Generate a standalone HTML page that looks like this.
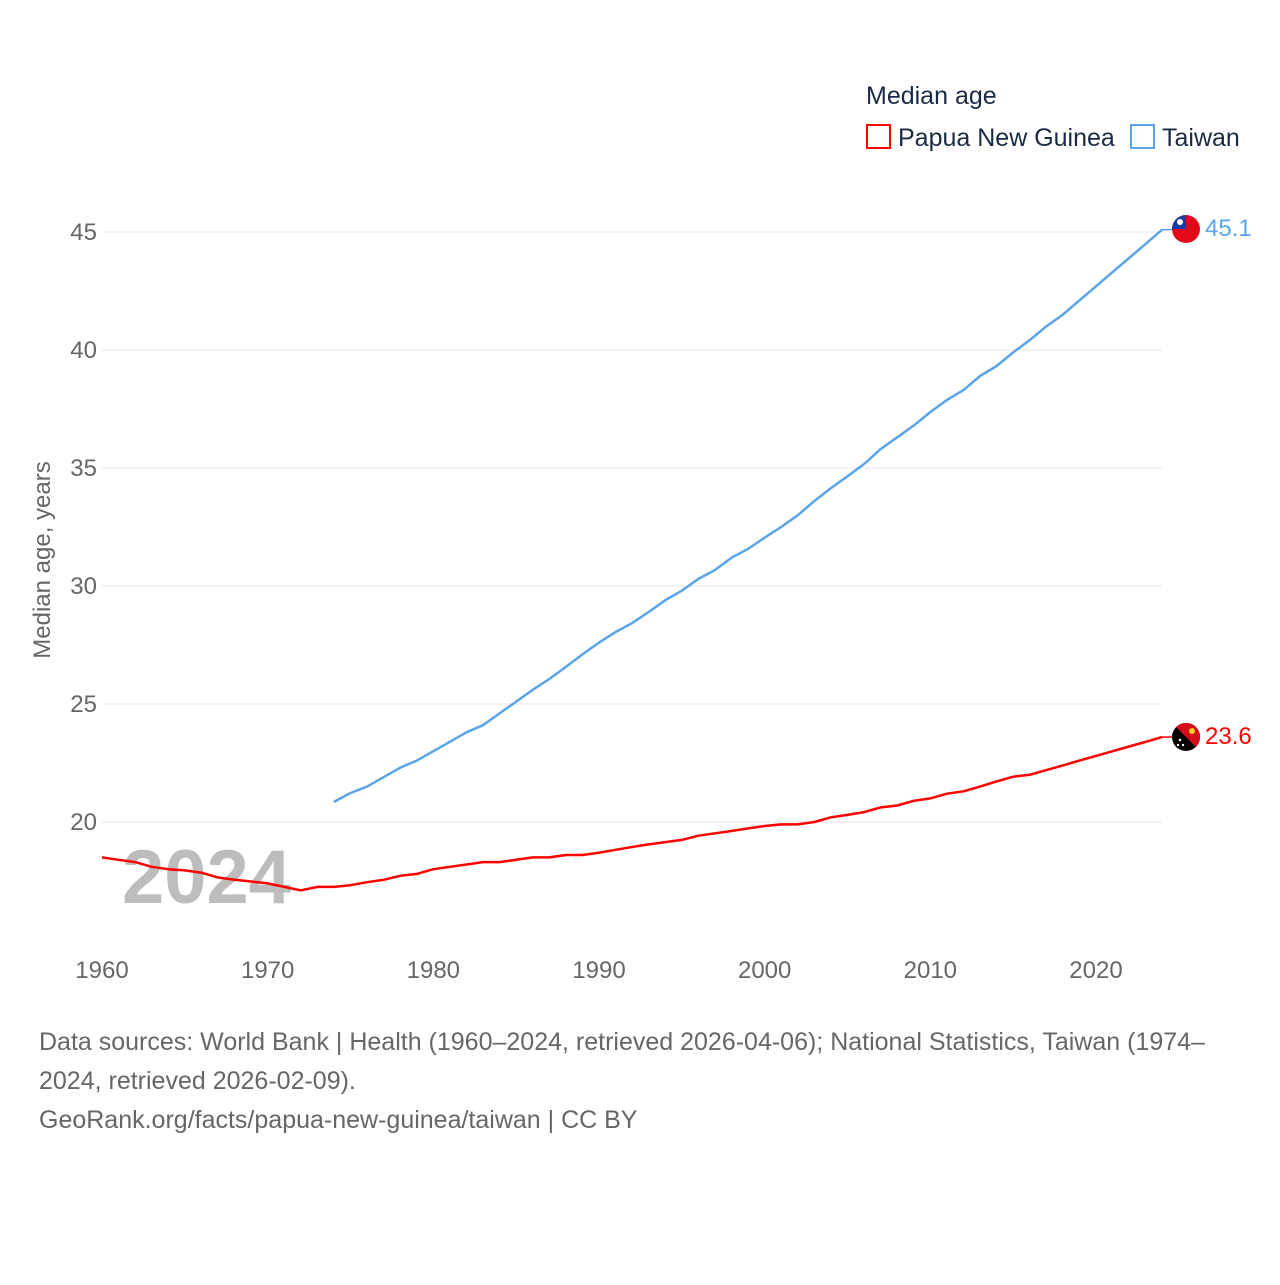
<!DOCTYPE html>
<html><head><meta charset="utf-8"><style>
body{margin:0;background:#fff;font-family:"Liberation Sans",sans-serif;}
svg text{font-family:"Liberation Sans",sans-serif;}
</style></head><body>
<svg id="chart" width="1280" height="1280" viewBox="0 0 1280 1280" xmlns="http://www.w3.org/2000/svg">
<text x="866" y="104" font-size="25" fill="#1a2a44">Median age</text>
<g><rect x="867" y="125" width="23" height="23" fill="none" stroke="#f00" stroke-width="2"/><text x="898" y="146" font-size="25" fill="#1a2a44">Papua New Guinea</text></g>
<g><rect x="1131" y="125" width="23" height="23" fill="none" stroke="#5ba4e8" stroke-width="2"/><text x="1162" y="146" font-size="25" fill="#1a2a44">Taiwan</text></g>
<g id="grid"></g>
<g id="yticks"></g>
<g id="xticks"></g>
<text transform="translate(50,560) rotate(-90)" text-anchor="middle" font-size="24" fill="#666">Median age, years</text>
<text x="122" y="903" font-size="76" font-weight="bold" fill="#bdbdbd">2024</text>
<g id="series"></g>
<g><circle cx="1186" cy="229" r="14" fill="#e30a17"/><path d="M1172 229 A14 14 0 0 1 1186 215 L1186 229 Z" fill="#1a3ca8"/><circle cx="1180" cy="222" r="3" fill="#fff"/></g>
<g><circle cx="1186" cy="737" r="14" fill="#000"/><path d="M1176 727 A14 14 0 0 1 1196 747 Z" fill="#d40c1c"/><circle cx="1192" cy="731" r="3" fill="#fcd116"/><circle cx="1180" cy="740" r="1.2" fill="#fff"/><circle cx="1183" cy="745" r="1.2" fill="#fff"/><circle cx="1178" cy="745" r="1.2" fill="#fff"/></g>
<text x="1205" y="236" font-size="24" fill="#5ba4e8">45.1</text>
<text x="1205" y="744" font-size="24" fill="#f00">23.6</text>
<text font-size="25" fill="#666"><tspan x="39" y="1050">Data sources: World Bank | Health (1960–2024, retrieved 2026-04-06); National Statistics, Taiwan (1974–</tspan><tspan x="39" y="1089">2024, retrieved 2026-02-09).</tspan><tspan x="39" y="1128">GeoRank.org/facts/papua-new-guinea/taiwan | CC BY</tspan></text>
</svg>
<script>
const yTicks=[20,25,30,35,40,45];
const xTicks=[1960,1970,1980,1990,2000,2010,2020];
const pngStart=1960;
const pngValues=[18.5,18.4,18.3,18.1,18.0,17.95,17.85,17.65,17.55,17.48,17.4,17.25,17.1,17.25,17.25,17.32,17.45,17.55,17.72,17.8,18.0,18.1,18.2,18.3,18.3,18.4,18.5,18.5,18.6,18.6,18.7,18.82,18.94,19.05,19.15,19.24,19.42,19.52,19.62,19.73,19.83,19.9,19.9,20.0,20.2,20.3,20.42,20.62,20.7,20.9,21.0,21.2,21.3,21.5,21.72,21.92,22.0,22.2,22.4,22.6,22.8,23.0,23.2,23.4,23.6];
const twStart=1974;
const twValues=[20.85,21.23,21.5,21.9,22.3,22.6,23.0,23.4,23.8,24.1,24.6,25.1,25.6,26.06,26.57,27.1,27.6,28.05,28.43,28.9,29.4,29.8,30.3,30.68,31.2,31.57,32.05,32.5,33.0,33.6,34.15,34.65,35.17,35.8,36.3,36.8,37.37,37.88,38.3,38.9,39.32,39.9,40.42,41.0,41.5,42.1,42.7,43.3,43.9,44.5,45.1];
const X=yr=>102+(yr-1960)*(994/60);
const Y=v=>822-(v-20)*23.6;
const NS="http://www.w3.org/2000/svg";
function mk(tag,attrs,parent){const e=document.createElementNS(NS,tag);for(const k in attrs)e.setAttribute(k,attrs[k]);parent.appendChild(e);return e;}
const grid=document.getElementById('grid'),yt=document.getElementById('yticks'),xt=document.getElementById('xticks'),ser=document.getElementById('series');
yTicks.forEach(v=>{
 const l=mk('line',{x1:102,x2:1162,y1:Y(v),y2:Y(v),stroke:'#e6e6e6','stroke-width':1},grid);
 
 
 const t=mk('text',{x:97,y:Y(v)+8,'text-anchor':'end','font-size':24,fill:'#666'},yt);
 t.textContent=v;
 
 
});
xTicks.forEach(v=>{
 const t=mk('text',{x:X(v),y:978,'text-anchor':'middle','font-size':24,fill:'#666'},xt);
 t.textContent=v;
 
 
});
function line(start,vals,color,name){
 const d=vals.map((v,i)=>(i?'L':'M')+X(start+i).toFixed(1)+' '+Y(v).toFixed(1)).join(' ');
 const p=mk('path',{d:d,fill:'none',stroke:color,'stroke-width':2.5,'stroke-linejoin':'round'},ser);
 
 
 const last=vals[vals.length-1];
 const c=mk('line',{x1:X(start+vals.length-1),x2:1172,y1:Y(last),y2:Y(last),stroke:color,'stroke-width':1.5},ser);
 
 
}
line(pngStart,pngValues,'#f00','line-papua-new-guinea');
line(twStart,twValues,'#5ba4e8','line-taiwan');
</script>
</body></html>
